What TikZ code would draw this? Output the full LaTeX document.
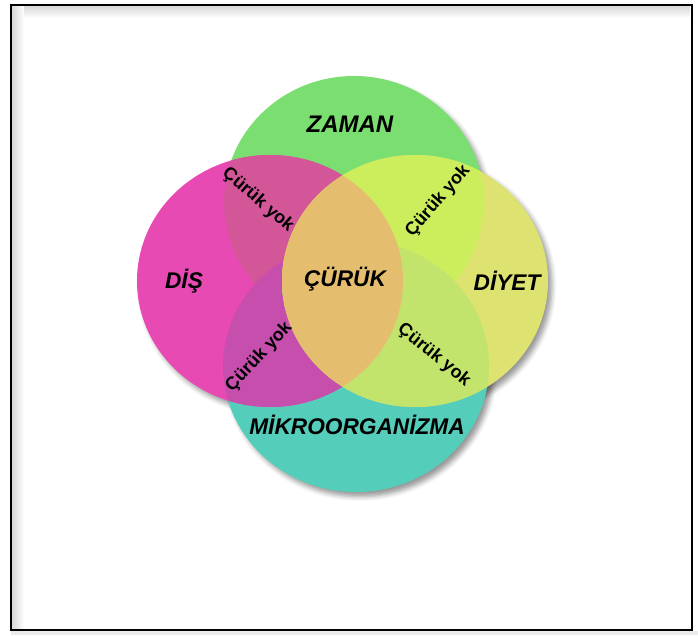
\documentclass[tikz,border=0pt]{standalone}
\usepackage{fontspec}
\setmainfont{Liberation Sans}
\usepackage{xcolor}
\usepackage{tikz}
\usetikzlibrary{shadows.blur}

\definecolor{verde}{RGB}{122,222,112}
\definecolor{rosa}{RGB}{232,74,180}
\definecolor{amarillo}{RGB}{222,226,112}
\definecolor{turquesa}{RGB}{84,206,186}
\definecolor{rosaverde}{RGB}{210,86,152}
\definecolor{limaverde}{RGB}{204,238,92}
\definecolor{rosaturq}{RGB}{198,78,172}
\definecolor{limaturq}{RGB}{194,228,108}
\definecolor{centro}{RGB}{228,190,110}

\begin{document}
\begin{tikzpicture}[x=0.75pt, y=-0.75pt,
  radios/.style={x radius=130, y radius=126},
  sombra/.style={blur shadow={shadow xshift=3pt, shadow yshift=-3.5pt, shadow blur radius=3.5pt, shadow opacity=40}},
  etiqueta/.style={font=\fontsize{17}{20}\selectfont\bfseries\itshape},
  sincaries/.style={font=\fontsize{13.5}{16}\selectfont\bfseries}]
\useasboundingbox (0,0) rectangle (698,635);

% Marco
\shade[top color=black!15, bottom color=white] (12,6) rectangle (690,18);
\shade[left color=black!15, right color=white] (12,6) rectangle (24,629);
\fill[black!8] (11,631) rectangle (698,635);
\draw[line width=2pt] (11,5) rectangle (692,630);

% Centros
\coordinate (zaman) at (354,202);
\coordinate (mikro) at (356,366);
\coordinate (dis) at (270,281);
\coordinate (diyet) at (415,281);

% Sombras
\path[sombra] (zaman) ellipse [radios];
\path[sombra] (mikro) ellipse [radios, x radius=133];
\path[sombra] (dis) ellipse [radios, x radius=133];
\path[sombra] (diyet) ellipse [radios, x radius=133];

% Circulos
\fill[verde] (zaman) ellipse [radios];
\fill[turquesa] (mikro) ellipse [radios, x radius=133];
\fill[rosa] (dis) ellipse [radios, x radius=133];
\fill[amarillo] (diyet) ellipse [radios, x radius=133];

% Intersecciones
\begin{scope}
\clip (dis) ellipse [radios, x radius=133];
\fill[rosaverde] (zaman) ellipse [radios];
\fill[rosaturq] (mikro) ellipse [radios, x radius=133];
\end{scope}
\begin{scope}
\clip (diyet) ellipse [radios, x radius=133];
\fill[limaverde] (zaman) ellipse [radios];
\fill[limaturq] (mikro) ellipse [radios, x radius=133];
\clip (dis) ellipse [radios, x radius=133];
\fill[centro] (diyet) ellipse [radios, x radius=133];
\end{scope}

% Etiquetas
\node[etiqueta, font=\fontsize{18}{20}\selectfont\bfseries\itshape] (lzaman) at (350,124) {ZAMAN};
\node[etiqueta] (ldis) at (184,281) {DİŞ};
\node[etiqueta] (lcuruk) at (345,279) {ÇÜRÜK};
\node[etiqueta] (ldiyet) at (507,281) {DİYET};
\node[etiqueta] (lmikro) at (357,425) {MİKROORGANİZMA};

\node[sincaries, rotate=-41] (yok1) at (258,200) {Çürük yok};
\node[sincaries, rotate=49] (yok2) at (438,201) {Çürük yok};
\node[sincaries, rotate=47] (yok3) at (259,357) {Çürük yok};
\node[sincaries, rotate=-39] (yok4) at (434,355) {Çürük yok};
\end{tikzpicture}
\end{document}
